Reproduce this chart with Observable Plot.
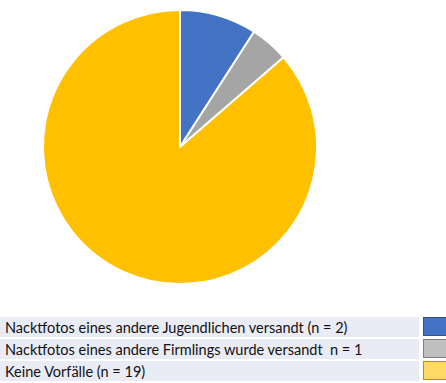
<!DOCTYPE html>
<html>
<head>
<meta charset="utf-8">
<script src="https://cdn.jsdelivr.net/npm/d3@7"></script>
<script src="https://cdn.jsdelivr.net/npm/@observablehq/plot@0.6"></script>
<style>
  html, body { margin: 0; padding: 0; background: #fff; overflow: hidden; }
  #chart svg { display: block; }
  .legend { position: relative; margin-top: 7px; font-family: Lato, "Open Sans", sans-serif; font-size: 14.5px; color: #111; width: 460px; }
  .row { display: flex; height: 20px; margin-bottom: 2px; }
  .lab { flex: 0 0 419px; background: #e9ebf5; box-sizing: border-box; padding-left: 5px; line-height: 21px; white-space: pre; }
  .sw { flex: 0 0 30px; margin-left: 4px; height: 19px; box-sizing: border-box; border: 1px solid; }
</style>
</head>
<body>
<div id="chart"></div>
<div class="legend" id="legend"></div>
<script>
const categories = [
  "Nacktfotos eines andere Jugendlichen versandt (n = 2)",
  "Nacktfotos eines andere Firmlings wurde versandt  n = 1",
  "Keine Vorfälle (n = 19)"
];
const values = [2, 1, 19];
const sliceColors = ["#4472c4", "#a5a5a5", "#ffc000"];
const swatchColors = ["#4472c4", "#bfbfbf", "#ffd966"];
const swatchBorders = ["#2f528f", "#7f7f7f", "#bf9000"];

const data = categories.map((c, i) => ({category: c, value: values[i]}));

const W = 446, H = 310;
const cx = 180, cy = 147, R = 137;

const pie = d3.pie().value(d => d.value).sort(null);
const arcs = pie(data);
const arcGen = d3.arc().innerRadius(0).outerRadius(R);

const pieMark = (index, scales, values_, dims, context) => {
  const g = d3.create("svg:g").attr("transform", `translate(${cx},${cy})`);
  g.selectAll("path").data(arcs).join("path")
    .attr("d", arcGen)
    .attr("fill", d => scales.color(d.data.category))
    .attr("stroke", "#fff")
    .attr("stroke-width", 2)
    .attr("stroke-linejoin", "round");
  return g.node();
};

const chart = Plot.plot({
  width: W,
  height: H,
  margin: 0,
  x: {axis: null},
  y: {axis: null},
  color: {domain: categories, range: sliceColors},
  marks: [pieMark]
});
document.getElementById("chart").append(chart);

const legend = d3.select("#legend");
categories.forEach((c, i) => {
  const row = legend.append("div").attr("class", "row");
  row.append("div").attr("class", "lab").text(c);
  row.append("div").attr("class", "sw").style("background", swatchColors[i]).style("border-color", swatchBorders[i]);
});
</script>
</body>
</html>
